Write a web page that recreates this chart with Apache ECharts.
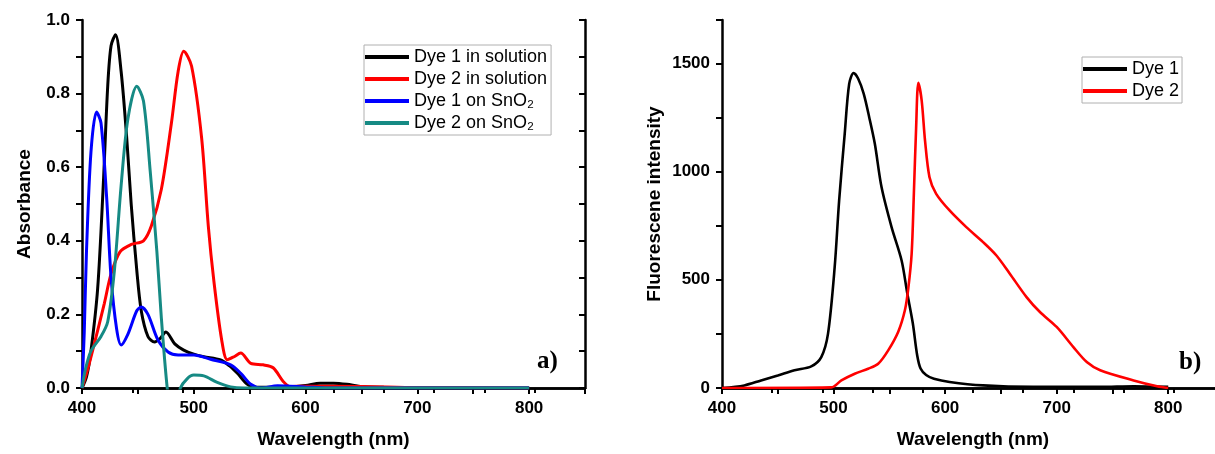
<!DOCTYPE html>
<html>

<head>
    <meta charset="utf-8" />
    <script src="https://cdn.jsdelivr.net/npm/echarts@6/dist/echarts.min.js"></script>
    <style>
        body { margin: 0; background: #fff; }
    </style>
</head>

<body>
    <div id="main" style="width: 1215px;height:454px;"></div>
    <script type="text/javascript">
        // a) absorbance spectra
        const dye1SolWl = [400, 404, 408, 414, 419, 423, 426, 430, 435, 440, 444, 449, 453, 459, 465, 470, 475, 483, 491, 500, 509, 524, 532, 539, 548, 556, 580, 600, 613, 625, 637, 649, 670, 700, 800];
        const dye1SolAbs = [0, 0.03, 0.1, 0.27, 0.55, 0.82, 0.93, 0.96, 0.86, 0.68, 0.5, 0.32, 0.21, 0.14, 0.125, 0.135, 0.152, 0.12, 0.103, 0.092, 0.085, 0.076, 0.06, 0.04, 0.01, 0.002, 0.002, 0.007, 0.013, 0.013, 0.01, 0.004, 0.002, 0.001, 0];

        const dye2SolWl = [400, 405, 411, 420, 426, 434, 444, 455, 462, 471, 480, 486, 491, 498, 507, 513, 518, 525, 530, 536, 542, 551, 562, 571, 580, 586, 600, 650, 700, 800];
        const dye2SolAbs = [0, 0.05, 0.12, 0.23, 0.31, 0.37, 0.39, 0.40, 0.44, 0.54, 0.72, 0.86, 0.915, 0.875, 0.68, 0.44, 0.29, 0.13, 0.077, 0.085, 0.095, 0.067, 0.063, 0.055, 0.018, 0.004, 0.005, 0.004, 0.001, 0];

        const dye1SnWl = [400, 402, 404, 408, 413, 417, 422, 426, 431, 435, 441, 449, 453, 459, 468, 477, 486, 500, 515, 533, 542, 551, 560, 575, 586, 600, 620, 800];
        const dye1SnAbs = [0, 0.15, 0.37, 0.64, 0.75, 0.72, 0.52, 0.3, 0.16, 0.117, 0.146, 0.21, 0.22, 0.2, 0.13, 0.098, 0.09, 0.09, 0.078, 0.063, 0.04, 0.01, 0, 0.006, 0.005, 0.003, 0, 0];

        const dye2SnWl = [400, 403, 408, 417, 423, 429, 435, 441, 449, 455, 461, 467, 471, 476, 479, 482, 485, 488, 494, 500, 509, 521, 533, 545, 800];
        const dye2SnAbs = [0, 0.05, 0.1, 0.14, 0.18, 0.32, 0.55, 0.73, 0.82, 0.78, 0.59, 0.37, 0.19, 0.007, -0.05, -0.06, -0.04, 0, 0.025, 0.035, 0.033, 0.015, 0.003, 0, 0];

        // b) fluorescence spectra
        const dye1FlWl = [400, 420, 435, 450, 465, 480, 489, 495, 501, 505, 510, 514, 518, 522, 527, 532, 537, 543, 552, 561, 566, 571, 575, 578, 583, 590, 604, 634, 679, 739, 769, 800];
        const dye1FlInt = [0, 12, 35, 58, 82, 100, 143, 250, 558, 866, 1174, 1405, 1455, 1430, 1360, 1250, 1128, 928, 743, 589, 440, 300, 150, 90, 60, 43, 28, 12, 5, 5, 8, 5];

        const dye2FlWl = [400, 498, 507, 519, 531, 540, 549, 558, 564, 567, 570, 572, 574, 576, 579, 582, 586, 592, 604, 619, 634, 646, 658, 673, 685, 700, 715, 727, 739, 769, 790, 800];
        const dye2FlInt = [0, 3, 35, 66, 89, 112, 174, 260, 360, 460, 620, 900, 1200, 1410, 1328, 1143, 974, 897, 820, 743, 674, 612, 528, 420, 351, 282, 189, 120, 82, 35, 8, 0];

        const xTicks = [400, 500, 600, 700, 800];

        function pairs(xs, ys) {
            return xs.map((x, i) => [x, ys[i]]);
        }

        const FONT = '"Liberation Sans", Arial, sans-serif';
        const lineW = 2.5;

        function xBottom(grid, title) {
            return {
                type: 'value', gridIndex: grid, position: 'bottom',
                min: 400, max: 850, interval: 50,
                axisLine: { show: true, lineStyle: { color: '#000', width: lineW } },
                axisTick: { show: true, inside: false, length: 6, lineStyle: { color: '#000', width: 2 } },
                splitLine: { show: false },
                axisLabel: {
                    margin: 12, color: '#000', fontSize: 17, fontWeight: 'bold', fontFamily: FONT,
                    formatter: v => xTicks.includes(v) ? String(v) : ''
                },
                name: title, nameLocation: 'middle', nameGap: 42,
                nameTextStyle: { color: '#000', fontSize: 19, fontWeight: 'bold', fontFamily: FONT }
            };
        }

        function xTop(grid) {
            return {
                type: 'value', gridIndex: grid, position: 'top',
                min: 0, max: 10, interval: 1,
                axisLine: { show: true, lineStyle: { color: '#000', width: lineW } },
                axisTick: { show: true, inside: true, length: 5, lineStyle: { color: '#000', width: 2 } },
                axisLabel: { show: false }, splitLine: { show: false }
            };
        }

        function yLeft(grid, max, interval, fmt, title, gap) {
            return {
                type: 'value', gridIndex: grid, position: 'left',
                min: 0, max: max, interval: interval,
                axisLine: { show: true, lineStyle: { color: '#000', width: lineW } },
                axisTick: { show: true, inside: false, length: 6, lineStyle: { color: '#000', width: 2 } },
                splitLine: { show: false },
                axisLabel: { margin: 12, color: '#000', fontSize: 17, fontWeight: 'bold', fontFamily: FONT, formatter: fmt },
                name: title, nameLocation: 'middle', nameGap: gap,
                nameTextStyle: { color: '#000', fontSize: 19, fontWeight: 'bold', fontFamily: FONT }
            };
        }

        function yRight(grid, max, interval) {
            return {
                type: 'value', gridIndex: grid, position: 'right',
                min: 0, max: max, interval: interval,
                axisLine: { show: true, lineStyle: { color: '#000', width: lineW } },
                axisTick: { show: true, inside: true, length: 6, lineStyle: { color: '#000', width: 2 } },
                axisLabel: { show: false }, splitLine: { show: false }
            };
        }

        function line(name, data, color, x, y, w) {
            return {
                name: name, type: 'line', data: data,
                xAxisIndex: x, yAxisIndex: y,
                showSymbol: false, symbol: 'none',
                smooth: 0.3,
                lineStyle: { color: color, width: w },
                itemStyle: { color: color },
                clip: true, z: 3
            };
        }

        const legendText = { color: '#000', fontSize: 18, fontFamily: FONT, lineHeight: 20 };

        const myChart = echarts.init(document.getElementById('main'), null, { renderer: 'canvas' });
        myChart.setOption({
            animation: false,
            backgroundColor: '#fff',
            grid: [
                { left: 82, top: 20, width: 503, height: 368, outerBoundsMode: 'none' },
                { left: 722, top: 20, width: 502, height: 368, outerBoundsMode: 'none' }
            ],
            xAxis: [
                xBottom(0, 'Wavelength (nm)'),
                xTop(0),
                xBottom(1, 'Wavelength (nm)'),
                xTop(1)
            ],
            yAxis: [
                yLeft(0, 1, 0.1, v => (Math.round(v * 10) % 2 === 0 ? v.toFixed(1) : ''), 'Absorbance', 48),
                yRight(0, 1, 0.1),
                yLeft(1, 1700, 250, v => (v % 500 === 0 ? String(v) : ''), 'Fluorescene intensity', 58),
                yRight(1, 1700, 250)
            ],
            legend: [
                {
                    data: ['Dye 1 in solution', 'Dye 2 in solution', 'Dye 1 on SnO₂', 'Dye 2 on SnO₂'],
                    orient: 'vertical', left: 364, top: 45,
                    icon: 'rect', itemWidth: 44, itemHeight: 4, itemGap: 2,
                    padding: [2, 4, 2, 1],
                    borderColor: '#b0b0b0', borderWidth: 1,
                    textStyle: legendText
                },
                {
                    data: ['Dye 1', 'Dye 2'],
                    orient: 'vertical', left: 1082, top: 57,
                    icon: 'rect', itemWidth: 44, itemHeight: 4, itemGap: 2,
                    padding: [2, 3, 2, 1],
                    borderColor: '#b0b0b0', borderWidth: 1,
                    textStyle: legendText
                }
            ],
            graphic: [
                { type: 'text', left: 537, top: 349, style: { text: 'a)', font: 'bold 25px "Liberation Serif", serif', fill: '#000' } },
                { type: 'text', left: 1179, top: 350, style: { text: 'b)', font: 'bold 25px "Liberation Serif", serif', fill: '#000' } }
            ],
            series: [
                line('Dye 1 in solution', pairs(dye1SolWl, dye1SolAbs), '#000000', 0, 0, 3),
                line('Dye 2 in solution', pairs(dye2SolWl, dye2SolAbs), '#ff0000', 0, 0, 3),
                line('Dye 1 on SnO₂', pairs(dye1SnWl, dye1SnAbs), '#0000ff', 0, 0, 3),
                line('Dye 2 on SnO₂', pairs(dye2SnWl, dye2SnAbs), '#168a84', 0, 0, 3),
                line('Dye 1', pairs(dye1FlWl, dye1FlInt), '#000000', 2, 2, 2.6),
                line('Dye 2', pairs(dye2FlWl, dye2FlInt), '#ff0000', 2, 2, 2.6)
            ]
        });
    </script>
</body>

</html>
